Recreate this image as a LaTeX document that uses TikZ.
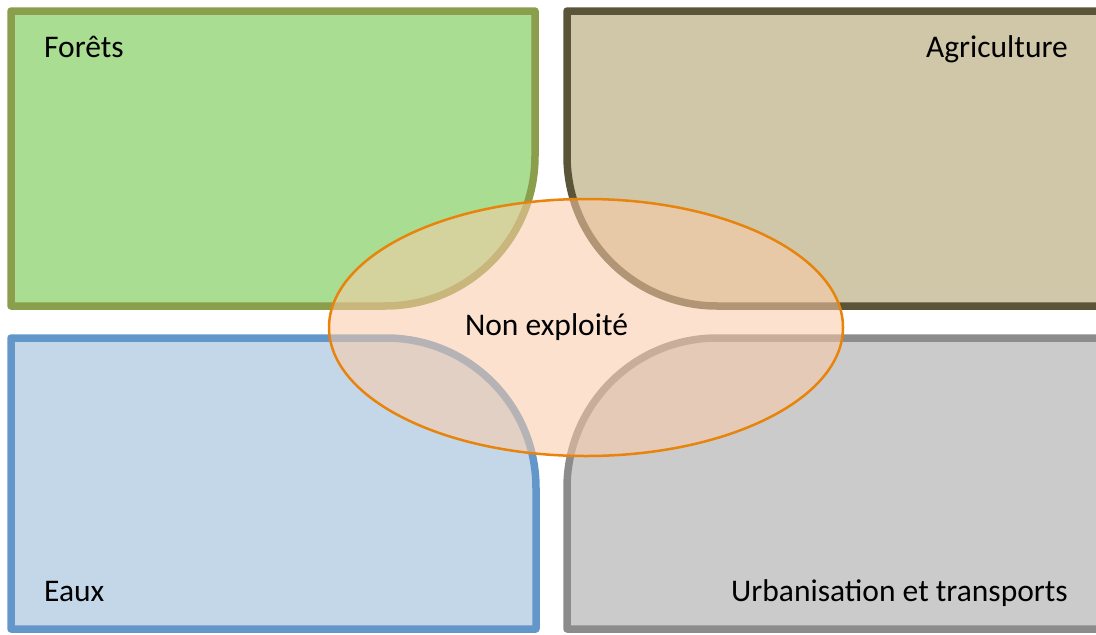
\documentclass[tikz,border=0pt]{standalone}
\usepackage{fontspec}
\setmainfont{Carlito}
\definecolor{forfill}{HTML}{A8DD92}
\definecolor{fordraw}{HTML}{8A9E4C}
\definecolor{agrfill}{HTML}{D0C7A8}
\definecolor{agrdraw}{HTML}{5A5539}
\definecolor{eaufill}{HTML}{C4D7E8}
\definecolor{eaudraw}{HTML}{6497C9}
\definecolor{urbfill}{HTML}{CBCBCB}
\definecolor{urbdraw}{HTML}{8C8C8C}
\definecolor{elldraw}{HTML}{E8830C}
\definecolor{ellfill}{HTML}{FBCBA7}
\tikzset{
  zone/.style={line width=7.5pt, line join=round},
  lbl/.style={font=\fontsize{31.5}{34}\selectfont, text=black, inner sep=0pt},
}
\begin{document}
\begin{tikzpicture}[x=1pt,y=-1pt]
\clip (0,0) rectangle (1096,635);
\fill[white] (0,0) rectangle (1096,635);
% Forets
\draw[zone, draw=fordraw, fill=forfill] (11,11) -- (535,11) -- (535,156)
  arc[start angle=0, end angle=90, radius=150] -- (11,306) -- cycle;
% Agriculture
\draw[zone, draw=agrdraw, fill=agrfill] (567,11) -- (1110,11) -- (1110,306) -- (717,306)
  arc[start angle=90, end angle=180, radius=150] -- cycle;
% Eaux
\draw[zone, draw=eaudraw, fill=eaufill] (11,338) -- (386,338)
  arc[start angle=-90, end angle=0, radius=150] -- (536,629) -- (11,629) -- cycle;
% Urbanisation
\draw[zone, draw=urbdraw, fill=urbfill] (717,338) -- (1110,338) -- (1110,629) -- (567,629) -- (567,488)
  arc[start angle=180, end angle=270, radius=150] -- cycle;
% Non exploite
\draw[draw=elldraw, line width=2.5pt, fill=ellfill, fill opacity=0.55] (586,327.5) ellipse[x radius=257, y radius=128.5];
\node[lbl, anchor=base west] (forets) at (44,57) {Forêts};
\node[lbl, anchor=base east] (agri) at (1068,57) {Agriculture};
\node[lbl, anchor=base west] (eaux) at (44,601) {Eaux};
\node[lbl, anchor=base east] (urb) at (1068,601) {Urbanisation et transports};
\node[lbl, anchor=base] (non) at (546.5,335) {Non exploité};
\end{tikzpicture}
\end{document}
